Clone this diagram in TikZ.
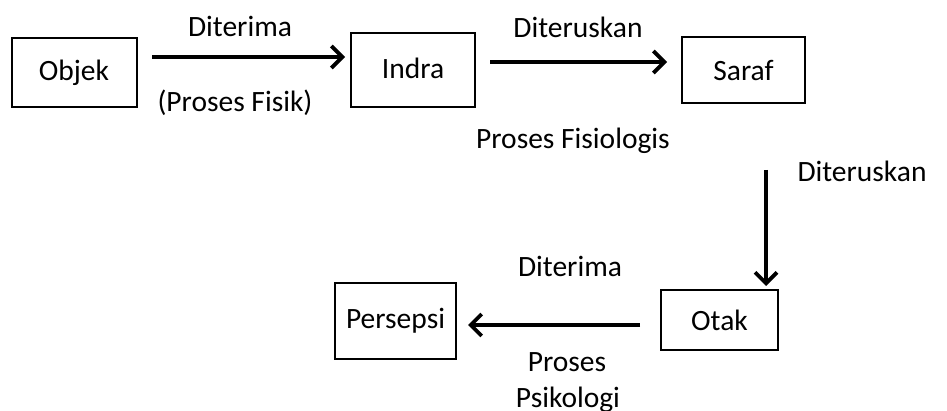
\documentclass[tikz,border=0pt]{standalone}
\usepackage{fontspec}
\setmainfont{Carlito}
\usetikzlibrary{arrows.meta}
\begin{document}
\begin{tikzpicture}[x=1pt,y=-1pt,
  box/.style={draw,line width=2pt,inner sep=0pt,font=\fontsize{29.5}{32}\selectfont},
  lbl/.style={inner sep=0pt,font=\fontsize{29.5}{32}\selectfont},
  conn/.style={line width=3.8pt,-{Straight Barb[length=11pt,width=22pt,line width=3.8pt]}}]
\useasboundingbox (0,0) rectangle (947,411);
\node[box,minimum width=125pt,minimum height=69pt] (objek) at (74,73) {Objek};
\node[box,minimum width=124pt,minimum height=74pt] (indra) at (413,70) {\raisebox{4pt}{Indra}};
\node[box,minimum width=123pt,minimum height=66pt] (saraf) at (743.5,70) {Saraf};
\node[box,minimum width=117pt,minimum height=60pt] (otak) at (719.5,320) {Otak};
\node[box,minimum width=121pt,minimum height=76pt] (persepsi) at (395.5,321) {\raisebox{5pt}{Persepsi}};
\coordinate (a1s) at (152,57);
\coordinate (a1e) at (345,57);
\coordinate (a2s) at (490,62);
\coordinate (a2e) at (667,62);
\coordinate (a3s) at (766,170);
\coordinate (a3e) at (766,286);
\coordinate (a4s) at (640,325);
\coordinate (a4e) at (468,325);
\draw[conn] (a1s) -- (a1e);
\draw[conn] (a2s) -- (a2e);
\draw[conn] (a3s) -- (a3e);
\draw[conn] (a4s) -- (a4e);
\node[lbl] (t1) at (240,26) {Diterima};
\node[lbl] (t2) at (235,103) {(Proses Fisik)};
\node[lbl] (t3) at (578,27) {Diteruskan};
\node[lbl] (t4) at (573,141) {Proses Fisiologis};
\node[lbl] (t5) at (862,171) {Diteruskan};
\node[lbl] (t6) at (570,266) {Diterima};
\node[lbl] (t7) at (567,362) {Proses};
\node[lbl] (t8) at (568,400) {Psikologi};
\end{tikzpicture}
\end{document}
